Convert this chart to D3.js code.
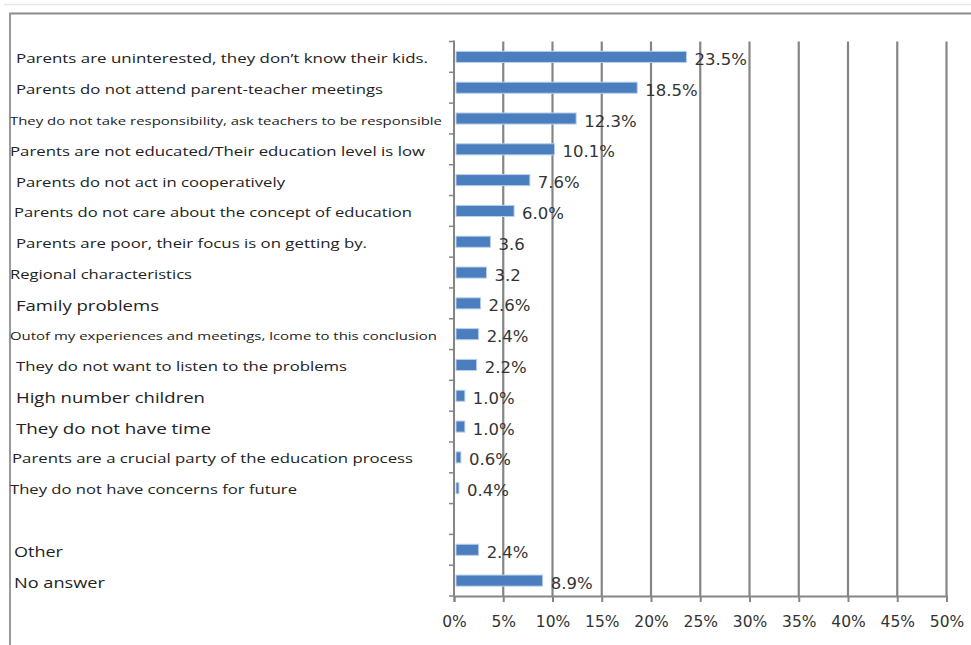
<!DOCTYPE html>
<html>
<head>
<meta charset="utf-8">
<script src="https://cdn.jsdelivr.net/npm/d3@7"></script>
<style>
  html, body { margin: 0; padding: 0; background: #fff; }
  svg { display: block; }
</style>
</head>
<body>
<svg id="chart" width="971" height="645"></svg>
<script>
// Reasons given, top to bottom (an empty slot separates the main list from Other / No answer)
const categories = [
  "Parents are uninterested, they don\u2019t know their kids.",
  "Parents do not attend parent-teacher  meetings",
  "They do not take responsibility, ask teachers to be responsible",
  "Parents are not educated/Their  education  level is low",
  "Parents do not act in cooperatively",
  "Parents do not care about the concept  of education",
  "Parents are poor, their focus is on getting  by.",
  "Regional characteristics",
  "Family problems",
  "Outof my experiences and meetings, lcome to this conclusion",
  "They do not want  to listen to the problems",
  "High number children",
  "They do not have time",
  "Parents are a crucial party of the education  process",
  "They do not have concerns for future",
  "",
  "Other",
  "No answer"
];

// Share of answers, in percent
const values = [23.5, 18.5, 12.3, 10.1, 7.6, 6.0, 3.6, 3.2, 2.6, 2.4, 2.2, 1.0, 1.0, 0.6, 0.4, null, 2.4, 8.9];

// Value labels as printed next to each bar
const valueLabels = ["23.5%", "18.5%", "12.3%", "10.1%", "7.6%", "6.0%", "3.6", "3.2", "2.6%", "2.4%", "2.2%", "1.0%", "1.0%", "0.6%", "0.4%", "", "2.4%", "8.9%"];

// Axis ticks (percent)
const xTicks = [0, 5, 10, 15, 20, 25, 30, 35, 40, 45, 50];

// Category label typesetting: font size, left edge and fitted width
const labelSize  = [13.5, 13.5, 11, 13, 13.5, 13, 13.5, 13, 15, 11, 13.5, 15, 15, 12.5, 12.5, 0, 14, 14];
const labelLeft  = [16, 16, 10, 10, 16, 14, 16, 10, 16, 10, 16, 16, 16, 12, 10, 0, 14, 14];
const labelWidth = [412, 367, 432, 415, 269, 398, 351, 182, 143, 427, 331, 189, 195, 401, 287, 0, 49, 91];

const svg = d3.select("#chart");

const plot = { left: 454, right: 946.5, top: 41.5, bottom: 596 };

const x = d3.scaleLinear().domain([0, 50]).range([plot.left, plot.right]);
const y = d3.scaleBand()
  .domain(d3.range(categories.length))
  .range([plot.top, plot.bottom])
  .paddingInner(0.64)
  .paddingOuter(0.32);

// Outer frame
svg.append("line")
  .attr("x1", 4).attr("x2", 971).attr("y1", 4.5).attr("y2", 4.5)
  .attr("stroke", "#e6e6e6").attr("stroke-width", 1.5);
svg.append("line")
  .attr("x1", 9).attr("x2", 971).attr("y1", 13.5).attr("y2", 13.5)
  .attr("stroke", "#8c8c8c").attr("stroke-width", 2);
svg.append("line")
  .attr("x1", 10).attr("x2", 10).attr("y1", 13).attr("y2", 645)
  .attr("stroke", "#9a9a9a").attr("stroke-width", 2);

// Vertical gridlines
svg.append("g")
  .selectAll("line")
  .data(xTicks.slice(1))
  .join("line")
  .attr("x1", d => x(d)).attr("x2", d => x(d))
  .attr("y1", plot.top).attr("y2", plot.bottom)
  .attr("stroke", "#858585").attr("stroke-width", 2.2);

// Bars
svg.append("g")
  .selectAll("rect")
  .data(values.map((v, i) => ({ v, i })).filter(d => d.v != null))
  .join("rect")
  .attr("x", x(0) + 2)
  .attr("y", d => y(d.i))
  .attr("width", d => Math.max(1.5, x(d.v) - x(0) - 1))
  .attr("height", y.bandwidth())
  .attr("fill", "#4a7ebf")
  .attr("stroke", "#b9d0ec")
  .attr("stroke-width", 1);

// Value labels
svg.append("g")
  .selectAll("text")
  .data(values.map((v, i) => ({ v, i })).filter(d => d.v != null))
  .join("text")
  .attr("x", d => x(d.v) + 9)
  .attr("y", d => y(d.i) + y.bandwidth() / 2 + 2.5)
  .attr("dominant-baseline", "central")
  .attr("font-family", "DejaVu Sans, sans-serif")
  .attr("font-size", 16.5)
  .attr("fill", "#333")
  .text(d => valueLabels[d.i]);

// Category axis: vertical line with ticks at band boundaries
const yAxisG = svg.append("g");
yAxisG.append("line")
  .attr("x1", plot.left).attr("x2", plot.left)
  .attr("y1", plot.top - 1).attr("y2", plot.bottom)
  .attr("stroke", "#858585").attr("stroke-width", 2);
yAxisG.selectAll("line.tick")
  .data(d3.range(categories.length + 1))
  .join("line")
  .attr("class", "tick")
  .attr("x1", plot.left - 5).attr("x2", plot.left)
  .attr("y1", i => plot.top + i * y.step())
  .attr("y2", i => plot.top + i * y.step())
  .attr("stroke", "#858585").attr("stroke-width", 1.5);

// Category labels
svg.append("g")
  .selectAll("text")
  .data(categories.map((c, i) => ({ c, i })).filter(d => d.c !== ""))
  .join("text")
  .attr("x", d => labelLeft[d.i])
  .attr("y", d => y(d.i) + y.bandwidth() / 2 + 1.5)
  .attr("dominant-baseline", "central")
  .attr("font-family", "Open Sans, sans-serif")
  .attr("font-size", d => labelSize[d.i])
  .attr("textLength", d => labelWidth[d.i])
  .attr("lengthAdjust", "spacingAndGlyphs")
  .attr("fill", "#222")
  .text(d => d.c);

// Percentage axis along the bottom
const xAxis = d3.axisBottom(x)
  .tickValues(xTicks)
  .tickFormat(d => d + "%")
  .tickSize(6)
  .tickPadding(14);

const xg = svg.append("g")
  .attr("transform", `translate(0,${plot.bottom})`)
  .call(xAxis);
xg.select(".domain").attr("stroke", "#858585").attr("stroke-width", 2);
xg.selectAll(".tick line").attr("stroke", "#858585").attr("stroke-width", 2);
xg.selectAll(".tick text")
  .attr("font-family", "DejaVu Sans, sans-serif")
  .attr("font-size", 15.5)
  .attr("fill", "#333");
</script>
</body>
</html>
